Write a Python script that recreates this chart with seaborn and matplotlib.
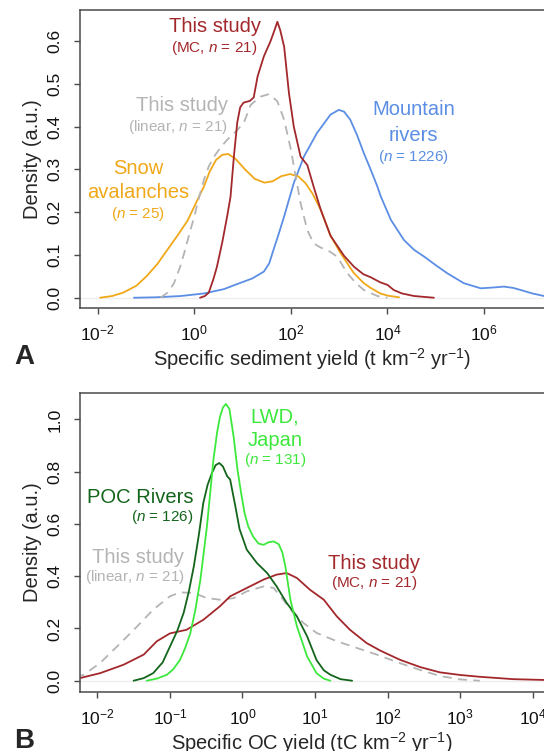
import numpy as np
import pandas as pd
import matplotlib
matplotlib.use("Agg")
import matplotlib.pyplot as plt
import seaborn as sns

# ---- Panel A: specific sediment yield (log10 t km-2 yr-1) vs density ----
snow_logx = [-1.95, -1.7, -1.47, -1.2, -0.99, -0.77, -0.57, -0.35, -0.14, 0.05, 0.20, 0.32, 0.45, 0.58,
             0.70, 0.85, 1.05, 1.25, 1.45, 1.62, 1.80, 1.98, 2.15, 2.30, 2.45, 2.62, 2.82, 3.03, 3.30,
             3.50, 3.65, 3.85, 4.0, 4.24]
snow_dens = [0.0, 0.004, 0.012, 0.028, 0.05, 0.078, 0.11, 0.145, 0.18, 0.225, 0.26, 0.295, 0.322, 0.334,
             0.336, 0.325, 0.300, 0.278, 0.269, 0.272, 0.284, 0.289, 0.284, 0.268, 0.243, 0.205, 0.145,
             0.104, 0.058, 0.035, 0.023, 0.010, 0.005, 0.001]

mc_a_logx = [0.12, 0.22, 0.30, 0.40, 0.47, 0.58, 0.68, 0.75, 0.82, 0.89, 0.95, 1.02, 1.15, 1.23, 1.31,
             1.44, 1.58, 1.66, 1.72, 1.78, 1.86, 1.96, 2.06, 2.20, 2.34, 2.47, 2.62, 2.82, 3.10, 3.31,
             3.50, 3.65, 3.85, 4.0, 4.13, 4.3, 4.55, 4.96]
mc_a_dens = [0.0, 0.004, 0.012, 0.045, 0.073, 0.13, 0.19, 0.236, 0.33, 0.41, 0.445, 0.456, 0.460, 0.468,
             0.517, 0.564, 0.60, 0.625, 0.645, 0.625, 0.587, 0.478, 0.40, 0.33, 0.31, 0.26, 0.205,
             0.145, 0.098, 0.072, 0.055, 0.048, 0.036, 0.03, 0.018, 0.01, 0.004, 0.0]

lin_a_logx = [-0.70, -0.55, -0.42, -0.30, -0.21, -0.10, 0.0, 0.10, 0.20, 0.30, 0.41, 0.55, 0.68, 0.89,
              1.03, 1.17, 1.37, 1.55, 1.72, 1.86, 2.0, 2.10, 2.20, 2.34, 2.47, 2.62, 2.75, 2.96, 3.17,
              3.35, 3.51, 3.79, 4.0]
lin_a_dens = [0.0, 0.012, 0.034, 0.07, 0.104, 0.15, 0.19, 0.235, 0.276, 0.307, 0.33, 0.352, 0.369, 0.392,
              0.41, 0.451, 0.47, 0.476, 0.459, 0.416, 0.346, 0.283, 0.221, 0.158, 0.127, 0.117, 0.112,
              0.096, 0.057, 0.034, 0.018, 0.004, 0.0]

river_logx = [-1.25, -0.8, -0.28, 0.2, 0.61, 0.96, 1.2, 1.44, 1.55, 1.64, 1.75, 1.86, 2.06, 2.27, 2.54,
              2.82, 2.99, 3.10, 3.23, 3.37, 3.51, 3.65, 3.79, 3.86, 4.07, 4.34, 4.55, 4.76, 5.0, 5.24,
              5.58, 5.93, 6.2, 6.41, 6.6, 6.76, 7.0, 7.24, 7.5]
river_dens = [0.0, 0.001, 0.004, 0.01, 0.02, 0.035, 0.045, 0.061, 0.08, 0.112, 0.15, 0.19, 0.268, 0.33,
              0.385, 0.428, 0.439, 0.435, 0.416, 0.38, 0.338, 0.30, 0.26, 0.237, 0.182, 0.135, 0.112,
              0.096, 0.076, 0.057, 0.034, 0.022, 0.024, 0.026, 0.023, 0.018, 0.01, 0.004, 0.001]

# ---- Panel B: specific OC yield (log10 tC km-2 yr-1) vs density ----
lwd_logx = [-1.32, -1.18, -1.04, -0.95, -0.86, -0.79, -0.72, -0.65, -0.58, -0.49, -0.40, -0.35, -0.31,
            -0.27, -0.23, -0.18, -0.12, -0.07, -0.02, 0.03, 0.08, 0.15, 0.22, 0.29, 0.36, 0.43, 0.50,
            0.55, 0.59, 0.66, 0.75, 0.89, 1.02, 1.12, 1.21]
lwd_dens = [0.0, 0.008, 0.023, 0.045, 0.08, 0.125, 0.18, 0.27, 0.386, 0.59, 0.846, 0.95, 1.01, 1.045,
            1.059, 1.04, 0.93, 0.81, 0.72, 0.64, 0.59, 0.55, 0.525, 0.52, 0.53, 0.533, 0.522, 0.49,
            0.438, 0.31, 0.208, 0.093, 0.029, 0.008, 0.0]

poc_logx = [-1.50, -1.36, -1.23, -1.1, -1.0, -0.90, -0.81, -0.74, -0.67, -0.60, -0.54, -0.48, -0.42,
            -0.37, -0.32, -0.27, -0.21, -0.17, -0.10, -0.04, 0.06, 0.20, 0.34, 0.47, 0.61, 0.75, 0.89,
            1.02, 1.12, 1.21, 1.35, 1.51]
poc_dens = [0.0, 0.01, 0.029, 0.07, 0.13, 0.19, 0.26, 0.34, 0.438, 0.56, 0.68, 0.75, 0.795, 0.825,
            0.833, 0.82, 0.782, 0.77, 0.67, 0.58, 0.501, 0.45, 0.412, 0.361, 0.297, 0.246, 0.17,
            0.079, 0.04, 0.023, 0.006, 0.0]

mc_b_logx = [-2.30, -2.24, -1.96, -1.64, -1.36, -1.18, -1.0, -0.77, -0.54, -0.31, -0.17, 0.06, 0.29,
             0.47, 0.61, 0.75, 0.93, 1.12, 1.30, 1.48, 1.71, 1.90, 2.17, 2.45, 2.72, 3.0, 3.27, 3.73,
             4.15, 4.3]
mc_b_dens = [0.008, 0.01, 0.029, 0.061, 0.10, 0.151, 0.181, 0.195, 0.233, 0.285, 0.323, 0.355, 0.387,
             0.406, 0.412, 0.393, 0.348, 0.31, 0.246, 0.195, 0.144, 0.115, 0.08, 0.052, 0.032, 0.022,
             0.015, 0.006, 0.003, 0.003]

lin_b_logx = [-2.30, -2.19, -1.96, -1.68, -1.45, -1.23, -1.0, -0.86, -0.67, -0.49, -0.31, -0.12, 0.06,
              0.29, 0.43, 0.56, 0.70, 0.84, 1.02, 1.30, 1.58, 1.85, 2.17, 2.45, 2.72, 3.0, 3.27]
lin_b_dens = [0.015, 0.022, 0.068, 0.144, 0.208, 0.272, 0.323, 0.338, 0.336, 0.316, 0.31, 0.316, 0.342,
              0.361, 0.355, 0.31, 0.259, 0.221, 0.183, 0.151, 0.125, 0.10, 0.067, 0.041, 0.018, 0.005,
              0.0]

RED = "#a3282c"
GRAY = "#b4b4b4"
ORANGE = "#f0a818"
BLUE = "#5b8ee4"
LIGHTGREEN = "#3de83d"
DARKGREEN = "#14651c"

sns.set_style("ticks")
plt.rcParams["font.family"] = ["Liberation Sans", "DejaVu Sans"]
plt.rcParams["mathtext.fontset"] = "custom"
plt.rcParams["mathtext.rm"] = "Liberation Sans"
plt.rcParams["mathtext.it"] = "Liberation Sans:italic"
plt.rcParams["mathtext.bf"] = "Liberation Sans:bold"


def curve(ax, logx, dens, color, dashed=False):
    df = pd.DataFrame({"x": np.power(10.0, logx), "y": dens})
    sns.lineplot(data=df, x="x", y="y", ax=ax, color=color, lw=1.3,
                 linestyle=(0, (5, 3.5)) if dashed else "-", estimator=None)


def style_axes(ax, xlim, ylim, xticks, yticks, xlabel):
    ax.set_xscale("log")
    ax.set_xlim(*xlim)
    ax.set_ylim(*ylim)
    ax.set_xticks(xticks)
    ax.set_xticklabels([r"$10^{%d}$" % int(round(np.log10(t))) for t in xticks])
    ax.xaxis.set_minor_locator(matplotlib.ticker.NullLocator())
    ax.set_yticks(yticks)
    ax.set_yticklabels(["%.1f" % t for t in yticks], rotation=90, va="center")
    for s in ["left", "bottom", "top"]:
        ax.spines[s].set_color("#4a4a4a")
        ax.spines[s].set_linewidth(1.1)
    ax.spines["right"].set_visible(False)
    ax.tick_params(axis="both", length=4.5, width=1.0, color="#4a4a4a", labelsize=12.5,
                   labelcolor="#111111")
    ax.tick_params(axis="x", pad=7)
    ax.tick_params(axis="y", pad=8)
    ax.axhline(0, color="#eeeeee", lw=1.0, zorder=0)
    ax.set_xlabel(xlabel, fontsize=14.5, labelpad=1.5)
    ax.set_ylabel("Density (a.u.)", fontsize=14.5, labelpad=4)


fig = plt.figure(figsize=(5.44, 7.51), dpi=100)
axA = fig.add_axes([80 / 544, 1 - 308 / 751, 464 / 544, 298 / 751])
axB = fig.add_axes([80 / 544, 1 - 691.7 / 751, 464 / 544, 298.7 / 751])

# Panel A
curve(axA, river_logx, river_dens, BLUE)
curve(axA, snow_logx, snow_dens, ORANGE)
curve(axA, lin_a_logx, lin_a_dens, GRAY, dashed=True)
curve(axA, mc_a_logx, mc_a_dens, RED)
style_axes(axA, (10 ** -2.366, 10 ** 7.24), (-0.024, 0.6725),
           [1e-2, 1e0, 1e2, 1e4, 1e6], [0.0, 0.1, 0.2, 0.3, 0.4, 0.5, 0.6],
           r"Specific sediment yield (t km$^{-2}$ yr$^{-1}$)")

big, small = 14.5, 11
axA.text(10 ** 0.42, 0.633, "This study", color=RED, fontsize=big, ha="center", va="center")
axA.text(10 ** 0.42, 0.584, r"(MC, $n$ = 21)", color=RED, fontsize=small, ha="center", va="center")
axA.text(10 ** 0.69, 0.450, "This study", color=GRAY, fontsize=big, ha="right", va="center")
axA.text(10 ** 0.69, 0.399, r"(linear, $n$ = 21)", color=GRAY, fontsize=small, ha="right", va="center")
axA.text(10 ** -1.17, 0.301, "Snow", color=ORANGE, fontsize=big, ha="center", va="center")
axA.text(10 ** -1.17, 0.245, "avalanches", color=ORANGE, fontsize=big, ha="center", va="center")
axA.text(10 ** -1.17, 0.196, r"($n$ = 25)", color=ORANGE, fontsize=small, ha="center", va="center")
axA.text(10 ** 4.54, 0.439, "Mountain", color=BLUE, fontsize=big, ha="center", va="center")
axA.text(10 ** 4.54, 0.380, "rivers", color=BLUE, fontsize=big, ha="center", va="center")
axA.text(10 ** 4.54, 0.329, r"($n$ = 1226)", color=BLUE, fontsize=small, ha="center", va="center")

# Panel B
curve(axB, lin_b_logx, lin_b_dens, GRAY, dashed=True)
curve(axB, mc_b_logx, mc_b_dens, RED)
curve(axB, poc_logx, poc_dens, DARKGREEN)
curve(axB, lwd_logx, lwd_dens, LIGHTGREEN)
style_axes(axB, (10 ** -2.238, 10 ** 4.153), (-0.042, 1.101),
           [1e-2, 1e-1, 1e0, 1e1, 1e2, 1e3, 1e4], [0.0, 0.2, 0.4, 0.6, 0.8, 1.0],
           r"Specific OC yield (tC km$^{-2}$ yr$^{-1}$)")

axB.text(10 ** 0.45, 1.010, "LWD,", color=LIGHTGREEN, fontsize=big, ha="center", va="center")
axB.text(10 ** 0.45, 0.921, "Japan", color=LIGHTGREEN, fontsize=big, ha="center", va="center")
axB.text(10 ** 0.45, 0.845, r"($n$ = 131)", color=LIGHTGREEN, fontsize=small, ha="center", va="center")
axB.text(10 ** -0.68, 0.703, "POC Rivers", color=DARKGREEN, fontsize=big, ha="right", va="center")
axB.text(10 ** -0.68, 0.626, r"($n$ = 126)", color=DARKGREEN, fontsize=small, ha="right", va="center")
axB.text(10 ** -0.80, 0.473, "This study", color=GRAY, fontsize=big, ha="right", va="center")
axB.text(10 ** -0.80, 0.397, r"(linear, $n$ = 21)", color=GRAY, fontsize=small, ha="right", va="center")
axB.text(10 ** 1.81, 0.450, "This study", color=RED, fontsize=big, ha="center", va="center")
axB.text(10 ** 1.81, 0.374, r"(MC, $n$ = 21)", color=RED, fontsize=small, ha="center", va="center")

fig.text(24 / 544, 1 - 357 / 751, "A", fontsize=20, fontweight="bold", ha="center", va="center")
fig.text(24 / 544, 1 - 741 / 751, "B", fontsize=20, fontweight="bold", ha="center", va="center")

fig.savefig("out.png", dpi=100)
